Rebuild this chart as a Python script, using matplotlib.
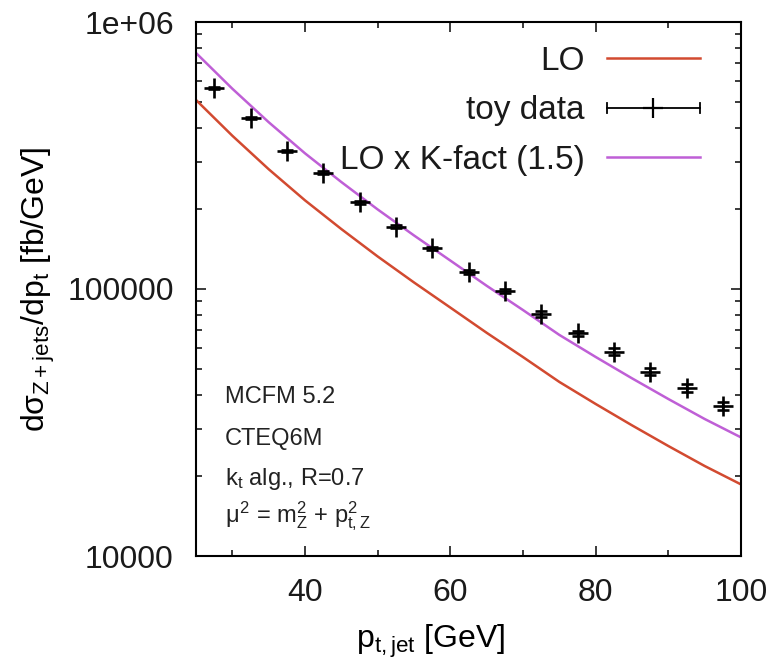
import matplotlib
matplotlib.use('Agg')
import matplotlib.pyplot as plt
import matplotlib.ticker as mticker
from matplotlib.legend_handler import HandlerBase
from matplotlib.lines import Line2D

plt.rcParams['font.family'] = ['Liberation Sans', 'DejaVu Sans']
plt.rcParams['mathtext.fontset'] = 'custom'
plt.rcParams['mathtext.rm'] = 'Liberation Sans'
plt.rcParams['mathtext.it'] = 'Liberation Sans'
plt.rcParams['mathtext.bf'] = 'Liberation Sans:bold'
plt.rcParams['text.color'] = '#1a1a1a'
plt.rcParams['xtick.color'] = '#1a1a1a'
plt.rcParams['ytick.color'] = '#1a1a1a'

# LO prediction (MCFM), sampled every 5 GeV
pt_theory = [25, 30, 35, 40, 45, 50, 55, 60, 65, 70, 75, 80, 85, 90, 95, 100]
lo_xsec = [510500, 375000, 281000, 214800, 167700, 132400, 105800, 85200,
           68550, 55600, 44870, 37100, 30860, 25820, 21730, 18540]
k_factor = 1.5

# toy data
pt_data = [27.5, 32.5, 37.5, 42.5, 47.5, 52.5, 57.5, 62.5, 67.5, 72.5,
           77.5, 82.5, 87.5, 92.5, 97.5]
data_xsec = [566000, 436000, 330000, 272700, 211200, 171100, 142000, 115500,
             98300, 80600, 68200, 58250, 49000, 42700, 36460]
data_err = [4000, 3500, 3000, 3000, 2500, 2400, 2100, 2000, 1900, 1800,
            1700, 1700, 1550, 1450, 1300]

y_ticks = [1e4, 1e5, 1e6]
y_ticklabels = ['10000', '100000', '1e+06']

red = '#d24a30'
purple = '#bf5fd6'


class HandlerHorizErr(HandlerBase):
    # key sample: horizontal bar with end caps and a cross in the middle
    def create_artists(self, legend, orig_handle, xdescent, ydescent,
                       width, height, fontsize, trans):
        y = height / 2 - ydescent
        x0, x1 = -xdescent, width - xdescent
        cap = 0.22 * height
        parts = [
            Line2D([x0, x1], [y, y], color='k', lw=1.3),
            Line2D([x0, x0], [y - cap, y + cap], color='k', lw=1.3),
            Line2D([x1, x1], [y - cap, y + cap], color='k', lw=1.3),
            Line2D([(x0 + x1) / 2], [y], marker='+', ms=14, mew=1.6, color='k'),
        ]
        for p in parts:
            p.set_transform(trans)
        return parts


fig = plt.figure(figsize=(7.79, 6.66), dpi=100)
ax = fig.add_axes([196 / 779, 1 - 556 / 666, 545 / 779, 534 / 666])

lo_line, = ax.plot(pt_theory, lo_xsec, color=red, lw=1.8)
k_line, = ax.plot(pt_theory, [v * k_factor for v in lo_xsec], color=purple, lw=1.8)
ax.errorbar(pt_data, data_xsec, yerr=data_err, fmt='+', color='k', ms=14,
            mew=1.9, elinewidth=1.5, capsize=4.5, capthick=1.5)

ax.set_yscale('log')
ax.set_xlim(25, 100)
ax.set_ylim(1e4, 1e6)

ax.xaxis.set_major_locator(mticker.MultipleLocator(20))
ax.xaxis.set_minor_locator(mticker.MultipleLocator(10))
ax.xaxis.set_major_formatter(mticker.FormatStrFormatter('%d'))
ax.yaxis.set_major_locator(mticker.FixedLocator(y_ticks))
ax.yaxis.set_major_formatter(mticker.FixedFormatter(y_ticklabels))
ax.yaxis.set_minor_locator(mticker.LogLocator(base=10, subs=range(2, 10)))
ax.yaxis.set_minor_formatter(mticker.NullFormatter())

ax.tick_params(which='both', direction='in', top=True, right=True, width=1.2)
ax.tick_params(which='major', length=7)
ax.tick_params(which='minor', length=4)
ax.tick_params(axis='x', which='major', labelsize=23, pad=16)
ax.tick_params(axis='y', which='major', labelsize=23, pad=16)
for s in ax.spines.values():
    s.set_linewidth(1.5)

ax.set_xlabel(r'p$_{\rm t,jet}$ [GeV]', fontsize=23)
ax.xaxis.set_label_coords(0.43, -0.125)
ax.set_ylabel(r'd$\sigma_{\rm Z+jets}$/dp$_{\rm t}$ [fb/GeV]', fontsize=23)
ax.yaxis.set_label_coords(-0.255, 0.5)

info = ['MCFM 5.2', 'CTEQ6M', r'k$_{\rm t}$ alg., R=0.7',
        r'$\mu^2$ = m$^2_{\rm Z}$ + p$^2_{\rm t,Z}$']
info_y = [0.2865, 0.208, 0.133, 0.062]
for txt, yy in zip(info, info_y):
    ax.text(0.053, yy, txt, transform=ax.transAxes, fontsize=17,
            va='baseline', ha='left', color='#222222')

leg = ax.legend([lo_line, 'toy', k_line], ['LO', 'toy data', 'LO x K-fact (1.5)'],
                handler_map={str: HandlerHorizErr()},
                loc='upper right', bbox_to_anchor=(700 / 779, 1 - 46 / 666),
                bbox_transform=fig.transFigure, frameon=False, markerfirst=False,
                fontsize=24, handlelength=2.8, handletextpad=0.65,
                labelspacing=0.55, borderpad=0, borderaxespad=0)

fig.savefig('out.png', dpi=100)
